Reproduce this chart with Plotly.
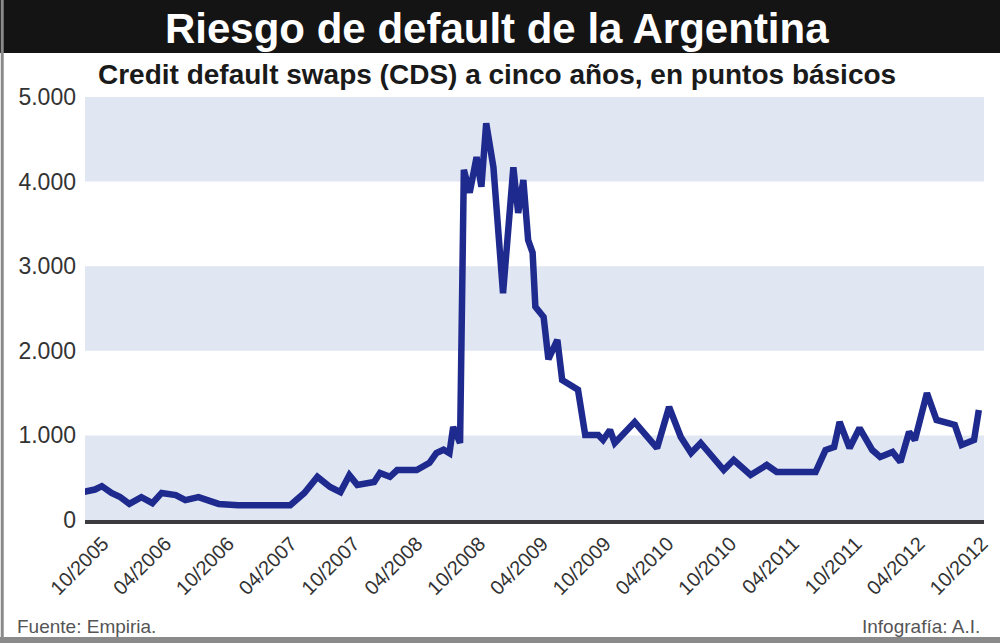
import plotly.graph_objects as go

# ---- data ----
dates = [
    "2005-08-04", "2005-09-08", "2005-09-28", "2005-10-26", "2005-11-19", "2005-12-17",
    "2006-01-21", "2006-02-22", "2006-03-21", "2006-05-01", "2006-05-29", "2006-07-06",
    "2006-09-03", "2006-10-30", "2007-03-30", "2007-05-10", "2007-06-17", "2007-07-24",
    "2007-08-23", "2007-09-18", "2007-10-11", "2007-11-29", "2007-12-16", "2008-01-14",
    "2008-02-04", "2008-04-01", "2008-05-08", "2008-05-28", "2008-06-18", "2008-07-05",
    "2008-07-16", "2008-08-05", "2008-08-16", "2008-09-02", "2008-09-22", "2008-10-06",
    "2008-10-20", "2008-11-10", "2008-12-08", "2009-01-07", "2009-01-21", "2009-02-05",
    "2009-02-19", "2009-03-04", "2009-03-12", "2009-04-05", "2009-04-19", "2009-05-15",
    "2009-05-29", "2009-07-14", "2009-08-04", "2009-09-11", "2009-09-25", "2009-10-15",
    "2009-10-29", "2009-12-26", "2010-03-01", "2010-04-05", "2010-05-09", "2010-06-08",
    "2010-07-06", "2010-09-11", "2010-10-10", "2010-11-28", "2011-01-14", "2011-02-12",
    "2011-06-05", "2011-07-04", "2011-07-29", "2011-08-14", "2011-09-12", "2011-10-11",
    "2011-11-17", "2011-12-10", "2012-01-15", "2012-02-07", "2012-03-03", "2012-03-20",
    "2012-04-24", "2012-05-22", "2012-07-14", "2012-08-03", "2012-09-08", "2012-09-22",
]
cds_values = [
    330, 360, 400, 320, 275, 190,
    270, 200, 320, 295, 235, 270,
    190, 175, 175, 320, 510, 390,
    330, 530, 415, 450, 555, 510,
    590, 590, 675, 790, 830, 790,
    1100, 910, 4140, 3870, 4290, 3940,
    4690, 4170, 2680, 4170, 3630, 4020,
    3310, 3160, 2520, 2400, 1900, 2130,
    1655, 1540, 1005, 1005, 946, 1064,
    910, 1158, 851, 1336, 981, 792,
    910, 591, 709, 532, 650, 567,
    567, 827, 863, 1158, 851, 1087,
    827, 745, 804, 686, 1040, 946,
    1501, 1182, 1123, 887, 946, 1300,
]

x_tick_dates = [
    "2005-10-01", "2006-04-01", "2006-10-01", "2007-04-01", "2007-10-01",
    "2008-04-01", "2008-10-01", "2009-04-01", "2009-10-01", "2010-04-01",
    "2010-10-01", "2011-04-01", "2011-10-01", "2012-04-01", "2012-10-01",
]
x_tick_labels = [
    "10/2005", "04/2006", "10/2006", "04/2007", "10/2007",
    "04/2008", "10/2008", "04/2009", "10/2009", "04/2010",
    "10/2010", "04/2011", "10/2011", "04/2012", "10/2012",
]
y_tick_values = [0, 1000, 2000, 3000, 4000, 5000]
y_tick_labels = ["0", "1.000", "2.000", "3.000", "4.000", "5.000"]
band_ranges = [(0, 1000), (2000, 3000), (4000, 5000)]

title_text = "Riesgo de default de la Argentina"
subtitle_text = "Credit default swaps (CDS) a cinco años, en puntos básicos"
source_text = "Fuente: Empiria."
credit_text = "Infografía: A.I."

# ---- figure ----
BOLD = "Liberation Sans, Arial, sans-serif"
REG = "Liberation Sans, Arial, sans-serif"

fig = go.Figure()
fig.add_trace(go.Scatter(
    x=dates, y=cds_values, mode="lines",
    line=dict(color="#1e2a8e", width=6.5, shape="linear"),
    hoverinfo="skip", showlegend=False,
))

shapes = []
for lo, hi in band_ranges:
    shapes.append(dict(type="rect", xref="paper", yref="y", x0=0, x1=1, y0=lo, y1=hi,
                       fillcolor="#e0e6f2", line=dict(width=0), layer="below"))
# black title bar
shapes.append(dict(type="rect", xref="paper", yref="paper", x0=-0.2, x1=1.2,
                   y0=1.0 + (97 - 53) / 423, y1=1.5, fillcolor="#141414",
                   line=dict(width=0), layer="below"))
fig.update_layout(shapes=shapes)

fig.update_layout(
    width=1000, height=643,
    margin=dict(l=85, r=8, t=97, b=123),
    paper_bgcolor="white", plot_bgcolor="white",
    xaxis=dict(
        type="date", range=["2005-08-10", "2012-10-07"],
        tickvals=x_tick_dates, ticktext=x_tick_labels, tickangle=-45,
        tickfont=dict(family=REG, size=20, color="#333333"),
        showgrid=False, zeroline=False, showline=True,
        linecolor="#3c3c40", linewidth=4, ticks="",
    ),
    yaxis=dict(
        range=[0, 5000], tickvals=y_tick_values, ticktext=y_tick_labels,
        tickfont=dict(family=REG, size=23, color="#333333"),
        showgrid=False, zeroline=False, showline=False, ticks="",
        ticklabelstandoff=8,
    ),
    annotations=[
        dict(text="<b>" + title_text + "</b>", xref="paper", yref="paper",
             x=(501 - 85) / 907, y=1 + (97 - 28) / 423, xanchor="center", yanchor="middle",
             showarrow=False, font=dict(family=BOLD, size=42, color="white")),
        dict(text="<b>" + subtitle_text + "</b>", xref="paper", yref="paper",
             x=(501 - 85) / 907, y=1 + (97 - 75) / 423, xanchor="center", yanchor="middle",
             showarrow=False, font=dict(family=BOLD, size=28, color="#1a1a1a")),
        dict(text=source_text, xref="paper", yref="paper",
             x=-(85 - 14) / 907, y=-(626 - 520) / 423, xanchor="left", yanchor="middle",
             showarrow=False, font=dict(family=REG, size=19, color="#555555")),
        dict(text=credit_text, xref="paper", yref="paper",
             x=1 + (990 - 992) / 907, y=-(626 - 520) / 423, xanchor="right", yanchor="middle",
             showarrow=False, font=dict(family=REG, size=19, color="#555555")),
    ],
)
# frame: left gray border and bottom gray strip
fig.add_shape(type="rect", xref="paper", yref="paper", x0=-85 / 907, x1=-82 / 907,
              y0=-0.5, y1=1.5, fillcolor="#8a8a8a", line=dict(width=0), layer="below")
fig.add_shape(type="rect", xref="paper", yref="paper", x0=-0.2, x1=1.2,
              y0=-(643 - 520) / 423 - 0.1, y1=-(637 - 520) / 423, fillcolor="#8a8a8a",
              line=dict(width=0), layer="below")

fig.write_html("out.html")
